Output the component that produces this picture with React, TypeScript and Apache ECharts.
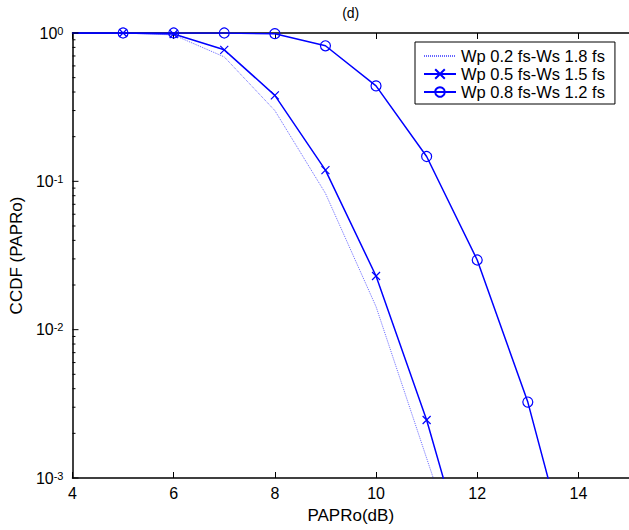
import React, { useEffect, useRef } from "react";
import * as echarts from "echarts";

const xValues = [4, 5, 6, 7, 8, 9, 10, 11, 12, 13, 14];
const seriesNames = ["Wp 0.2 fs-Ws 1.8 fs", "Wp 0.5 fs-Ws 1.5 fs", "Wp 0.8 fs-Ws 1.2 fs"];
const ccdf02 = [1, 1, 0.97, 0.69, 0.3, 0.083, 0.0143, 0.00136, 0.00013];
const ccdf05 = [1, 1, 0.985, 0.77, 0.38, 0.119, 0.023, 0.00246, 0.00016];
const ccdf08 = [1, 1, 1, 1, 0.99, 0.82, 0.44, 0.147, 0.0295, 0.00325, 0.00017];
const majorTickValues = [0.001, 0.01, 0.1, 1];
const minorTickValues = [
  0.002, 0.003, 0.004, 0.005, 0.006, 0.007, 0.008, 0.009,
  0.02, 0.03, 0.04, 0.05, 0.06, 0.07, 0.08, 0.09,
  0.2, 0.3, 0.4, 0.5, 0.6, 0.7, 0.8, 0.9,
];
const supMap: Record<string, string> = { "1": "0", "0.1": "-1", "0.01": "-2", "0.001": "-3" };

const X_MIN = 4;
const X_MAX = 15;
const BLUE = "#0000ff";
const FONT = "Liberation Sans";

function toData(ys: number[]) {
  return ys.map((y, i) =>
    i === 0 ? { value: [xValues[i], y], symbol: "none" } : { value: [xValues[i], y] }
  );
}

export default function App() {
  const ref = useRef<HTMLDivElement>(null);
  useEffect(() => {
    if (!ref.current) return;
    const chart = echarts.init(ref.current, null, { renderer: "svg" });
    const axisLine = { show: true, lineStyle: { color: "#000", width: 1.5 } };
    const tickData = [
      ...majorTickValues.map((v) => [X_MIN, v, 6]),
      ...minorTickValues.map((v) => [X_MIN, v, 3]),
    ];
    chart.setOption({
      animation: false,
      backgroundColor: "#fff",
      textStyle: { fontFamily: FONT, color: "#000" },
      grid: { left: 72, top: 33, bottom: 52, right: -8 },
      legend: {
        orient: "vertical",
        left: 415,
        top: 42,
        data: seriesNames,
        backgroundColor: "#fff",
        borderColor: "#000",
        borderWidth: 1,
        borderRadius: 0,
        padding: [5, 10, 3, 8],
        itemWidth: 32,
        itemHeight: 12,
        itemGap: 0,
        textStyle: { fontFamily: FONT, fontSize: 16.5, lineHeight: 18, color: "#000" },
      },
      xAxis: [
        {
          type: "value",
          position: "bottom",
          min: X_MIN,
          max: X_MAX,
          interval: 2,
          axisLine,
          axisTick: { show: true, inside: true, length: 6, lineStyle: { color: "#000" } },
          axisLabel: { showMaxLabel: false, margin: 7, fontSize: 16, color: "#000", fontFamily: FONT },
          splitLine: { show: false },
          name: "PAPRo(dB)",
          nameLocation: "middle",
          nameGap: 29,
          nameTextStyle: { fontSize: 17, color: "#000", fontFamily: FONT },
        },
        {
          type: "value",
          position: "top",
          min: X_MIN,
          max: X_MAX,
          interval: 2,
          axisLine,
          axisTick: { show: true, inside: true, length: 6, lineStyle: { color: "#000" } },
          axisLabel: { show: false },
          splitLine: { show: false },
          name: "(d)",
          nameLocation: "middle",
          nameGap: 13,
          nameTextStyle: { fontSize: 14, color: "#000", fontFamily: FONT },
        },
      ],
      yAxis: [
        {
          type: "log",
          logBase: 10,
          position: "left",
          min: 0.001,
          max: 1,
          axisLine,
          axisTick: { show: false },
          splitLine: { show: false },
          axisLabel: {
            margin: 9,
            color: "#000",
            fontFamily: FONT,
            formatter: (v: number) => {
              const key = String(Number(v.toPrecision(6)));
              const e = supMap[key] ?? String(Math.round(Math.log10(v)));
              return "{b|10}{s|" + e + "}";
            },
            rich: {
              b: { fontSize: 16, lineHeight: 16, padding: [11, 0, 11, 0], fontFamily: FONT, color: "#000" },
              s: { fontSize: 11, lineHeight: 12, verticalAlign: "top", fontFamily: FONT, color: "#000" },
            },
          },
          name: "CCDF (PAPRo)",
          nameLocation: "middle",
          nameGap: 44,
          nameTextStyle: { fontSize: 17, color: "#000", fontFamily: FONT },
        },
      ],
      series: [
        {
          name: "yticks",
          type: "custom",
          xAxisIndex: 0,
          yAxisIndex: 0,
          silent: true,
          clip: false,
          z: 5,
          data: tickData,
          renderItem: (params: any, api: any) => {
            const p = api.coord([api.value(0), api.value(1)]);
            const len = api.value(2);
            return {
              type: "line",
              shape: { x1: p[0], y1: p[1], x2: p[0] + len, y2: p[1] },
              style: { stroke: "#000", lineWidth: 1 },
            };
          },
        },
        {
          name: seriesNames[0],
          type: "line",
          xAxisIndex: 0,
          yAxisIndex: 0,
          data: toData(ccdf02),
          symbol: "none",
          lineStyle: { color: BLUE, width: 1, type: [1, 1], opacity: 0.6 },
          itemStyle: { color: "rgba(0,0,0,0)", borderWidth: 0 },
          z: 2,
        },
        {
          name: seriesNames[1],
          type: "line",
          xAxisIndex: 0,
          yAxisIndex: 0,
          data: toData(ccdf05),
          symbol: "path://M0,0L10,10M10,0L0,10",
          symbolSize: 8,
          lineStyle: { color: BLUE, width: 1.5 },
          itemStyle: { color: "rgba(0,0,0,0)", borderColor: BLUE, borderWidth: 1.2 },
          z: 3,
        },
        {
          name: seriesNames[2],
          type: "line",
          xAxisIndex: 0,
          yAxisIndex: 0,
          data: toData(ccdf08),
          symbol: "circle",
          symbolSize: 10,
          lineStyle: { color: BLUE, width: 1.5 },
          itemStyle: { color: "rgba(0,0,0,0)", borderColor: BLUE, borderWidth: 1.2 },
          z: 4,
        },
      ],
    });
    return () => chart.dispose();
  }, []);
  return (
    <div
      ref={ref}
      style={{ position: "absolute", left: 0, top: 0, width: 629, height: 530 }}
    />
  );
}
